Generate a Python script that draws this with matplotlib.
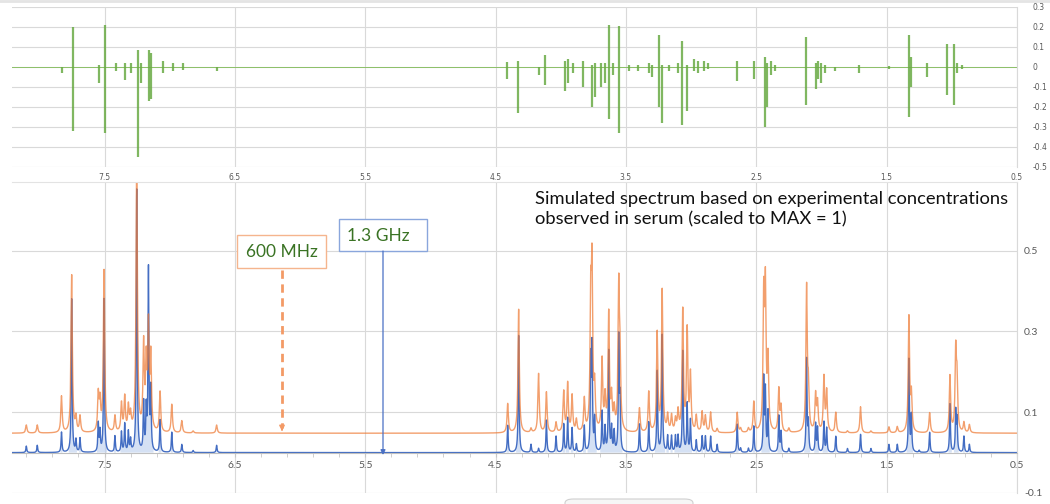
import numpy as np
import matplotlib
matplotlib.use("Agg")
import matplotlib.pyplot as plt
from matplotlib.patches import Rectangle, FancyBboxPatch, FancyArrowPatch
from matplotlib.lines import Line2D

plt.rcParams['axes.unicode_minus'] = False

# ---------------- data ----------------
# bottom panel: peak list (ppm), heights of the 600 MHz (orange) and 1.3 GHz (blue) spectra
peak_ppm = [8.100, 8.016, 7.830, 7.752, 7.719, 7.688, 7.548, 7.535, 7.504, 7.420,
            7.370, 7.345, 7.317, 7.300, 7.253, 7.200, 7.180, 7.163, 7.145, 7.074,
            6.984, 6.907, 6.820, 6.640,
            4.407, 4.323, 4.228, 4.170, 4.110, 4.036, 3.977, 3.947, 3.913, 3.880,
            3.819, 3.770, 3.760, 3.740, 3.683, 3.660, 3.632, 3.610, 3.590, 3.555,
            3.545, 3.396, 3.325, 3.260, 3.222, 3.180, 3.150, 3.120, 3.100, 3.064,
            3.030, 3.005, 2.960, 2.915, 2.890, 2.850, 2.800, 2.646, 2.620, 2.560,
            2.519, 2.443, 2.430, 2.410, 2.327, 2.310, 2.250, 2.114, 2.100, 2.045,
            2.030, 1.981, 1.960, 1.890, 1.800, 1.700, 1.620, 1.482, 1.418, 1.329,
            1.310, 1.250, 1.170, 1.014, 0.970, 0.960, 0.907, 0.865]
h_600 = [0.020, 0.020, 0.090, 0.390, 0.035, 0.040, 0.090, 0.070, 0.400, 0.040,
         0.070, 0.085, 0.060, 0.040, 0.700, 0.210, 0.160, 0.250, 0.180, 0.100,
         0.070, 0.030, 0.005, 0.020,
         0.072, 0.306, 0.010, 0.146, 0.100, 0.025, 0.100, 0.120, 0.090, 0.030,
         0.080, 0.300, 0.376, 0.100, 0.175, 0.080, 0.290, 0.080, 0.050, 0.350,
         0.150, 0.060, 0.100, 0.244, 0.350, 0.040, 0.040, 0.030, 0.050, 0.300,
         0.250, 0.140, 0.040, 0.050, 0.040, 0.050, 0.010, 0.050, 0.010, 0.010,
         0.075, 0.320, 0.340, 0.170, 0.105, 0.060, 0.010, 0.356, 0.100, 0.090,
         0.070, 0.135, 0.100, 0.050, 0.005, 0.065, 0.005, 0.015, 0.015, 0.285,
         0.090, 0.000, 0.050, 0.140, 0.195, 0.120, 0.025, 0.020]
h_1300 = [0.016, 0.018, 0.050, 0.380, 0.030, 0.035, 0.070, 0.050, 0.380, 0.040,
          0.050, 0.070, 0.050, 0.030, 0.650, 0.120, 0.100, 0.450, 0.150, 0.080,
          0.050, 0.020, 0.005, 0.018,
          0.067, 0.290, 0.020, 0.010, 0.080, 0.040, 0.070, 0.085, 0.060, 0.020,
          0.065, 0.220, 0.250, 0.080, 0.100, 0.060, 0.250, 0.060, 0.050, 0.280,
          0.120, 0.070, 0.075, 0.200, 0.290, 0.040, 0.040, 0.040, 0.040, 0.250,
          0.120, 0.080, 0.030, 0.040, 0.040, 0.040, 0.020, 0.070, 0.010, 0.010,
          0.065, 0.180, 0.150, 0.100, 0.090, 0.050, 0.010, 0.230, 0.070, 0.070,
          0.060, 0.075, 0.060, 0.040, 0.010, 0.045, 0.010, 0.020, 0.020, 0.230,
          0.090, 0.005, 0.050, 0.120, 0.100, 0.080, 0.040, 0.020]
orange_offset = 0.048          # vertical offset of the 600 MHz trace
hwhm_600 = 0.006               # line half-width (ppm)
hwhm_1300 = 0.004

# top panel: difference spectrum, per spike (ppm, max, min)
diff_ppm = [7.830, 7.740, 7.540, 7.494, 7.410, 7.340, 7.300, 7.240, 7.220, 7.158,
            7.145, 7.053, 6.976, 6.900, 6.634,
            4.412, 4.328, 4.170, 4.118, 3.964, 3.945, 3.910, 3.829, 3.760, 3.740,
            3.695, 3.660, 3.632, 3.600, 3.555, 3.480, 3.410, 3.320, 3.300, 3.248,
            3.222, 3.170, 3.100, 3.068, 3.030, 2.980, 2.950, 2.900, 2.870, 2.646,
            2.520, 2.437, 2.420, 2.390, 2.360, 2.122, 2.045, 2.030, 2.000, 1.970,
            1.900, 1.712, 1.480, 1.329, 1.310, 1.187, 1.034, 0.983, 0.960, 0.920]
diff_max = [0.000, 0.200, 0.010, 0.210, 0.020, 0.020, 0.020, 0.085, 0.020, 0.085,
            0.070, 0.030, 0.020, 0.020, 0.000,
            0.025, 0.030, 0.000, 0.060, 0.030, 0.040, 0.020, 0.030, 0.010, 0.020,
            0.020, 0.020, 0.210, 0.020, 0.205, 0.010, 0.010, 0.020, 0.010, 0.160,
            0.010, 0.010, 0.020, 0.130, 0.010, 0.040, 0.030, 0.030, 0.020, 0.030,
            0.030, 0.050, 0.020, 0.030, 0.010, 0.150, 0.020, 0.030, 0.020, 0.010,
            0.000, 0.010, 0.005, 0.160, 0.050, 0.020, 0.115, 0.115, 0.020, 0.010]
diff_min = [-0.030, -0.320, -0.080, -0.330, -0.020, -0.065, -0.030, -0.450, -0.080, -0.170,
            -0.160, -0.030, -0.020, -0.015, -0.020,
            -0.060, -0.230, -0.040, -0.090, -0.120, -0.080, -0.030, -0.100, -0.200, -0.150,
            -0.100, -0.080, -0.260, -0.040, -0.330, -0.020, -0.020, -0.030, -0.050, -0.200,
            -0.280, -0.020, -0.030, -0.290, -0.220, -0.020, -0.030, -0.020, -0.010, -0.070,
            -0.060, -0.300, -0.200, -0.040, -0.020, -0.190, -0.110, -0.060, -0.080, -0.030,
            -0.020, -0.030, -0.010, -0.250, -0.100, -0.050, -0.140, -0.190, -0.030, -0.010]

x_ticks = [7.5, 6.5, 5.5, 4.5, 3.5, 2.5, 1.5, 0.5]
top_yticks = [-0.5, -0.4, -0.3, -0.2, -0.1, 0, 0.1, 0.2, 0.3]
bot_yticks = [-0.1, 0.1, 0.3, 0.5]

label_600 = "600 MHz"
label_1300 = "1.3 GHz"
note = "Simulated spectrum based on experimental concentrations\nobserved in serum (scaled to MAX = 1)"

# ---------------- figure ----------------
W, H = 1050, 504
fig = plt.figure(figsize=(W / 100, H / 100), dpi=100)


def fx(x):
    return x / W


def fy(y):
    return 1 - y / H


GRID = '#d9d9d9'
TXT = '#595959'
XLIM = (8.21, 0.5)

ax_top = fig.add_axes([fx(12), fy(167), fx(1017) - fx(12), fy(7) - fy(167)])
ax_bot = fig.add_axes([fx(12), fy(493), fx(1017) - fx(12), fy(182) - fy(493)])

# ----- top panel -----
ax_top.set_xlim(*XLIM)
ax_top.set_ylim(-0.5, 0.3)
ax_top.set_xticks(x_ticks)
ax_top.set_xticklabels([f"{v:g}" for v in x_ticks])
ax_top.set_yticks(top_yticks)
ax_top.set_yticklabels([f"{v:g}" for v in top_yticks])
ax_top.yaxis.tick_right()
ax_top.grid(True, color=GRID, lw=0.8)
ax_top.set_axisbelow(True)
for s in ax_top.spines.values():
    s.set_visible(False)
ax_top.spines['right'].set_visible(True)
ax_top.spines['right'].set_color(GRID)
ax_top.tick_params(axis='both', length=0, labelsize=5.5, labelcolor=TXT)
ax_top.tick_params(axis='x', pad=4)
ax_top.tick_params(axis='y', pad=11)
for lab in ax_top.get_yticklabels():
    lab.set_horizontalalignment('left')

ax_top.axhline(0, color='#8cc068', lw=0.7)
ax_top.vlines(diff_ppm, diff_min, diff_max, color='#6aab45', lw=1.6, alpha=0.85)

# ----- bottom panel -----
xs = np.linspace(XLIM[1], XLIM[0], 40000)
pp = np.asarray(peak_ppm)[:, None]
spec_600 = orange_offset + (np.asarray(h_600)[:, None] /
                            (1 + ((xs[None, :] - pp) / hwhm_600) ** 2)).sum(axis=0)
spec_1300 = (np.asarray(h_1300)[:, None] /
             (1 + ((xs[None, :] - pp) / hwhm_1300) ** 2)).sum(axis=0)

ax_bot.set_xlim(*XLIM)
ax_bot.set_ylim(-0.1, 0.67)
ax_bot.set_xticks(x_ticks)
ax_bot.set_xticklabels([f"{v:g}" for v in x_ticks])
ax_bot.set_xticks(np.arange(0.5, 8.2, 0.2), minor=True)
ax_bot.set_yticks(bot_yticks)
ax_bot.set_yticklabels([f"{v:g}" for v in bot_yticks])
ax_bot.yaxis.tick_right()
ax_bot.grid(True, which='major', color=GRID, lw=0.8)
ax_bot.set_axisbelow(True)
for s in ax_bot.spines.values():
    s.set_visible(False)
ax_bot.spines['right'].set_visible(True)
ax_bot.spines['right'].set_color(GRID)
ax_bot.spines['top'].set_visible(True)
ax_bot.spines['top'].set_color('#e3e3e3')
ax_bot.spines['bottom'].set_visible(True)
ax_bot.spines['bottom'].set_position(('data', 0))
ax_bot.spines['bottom'].set_color('#bfbfbf')
ax_bot.tick_params(axis='x', which='both', length=3, color='#c8c8c8', direction='out',
                   labelsize=7.5, labelcolor=TXT, pad=3)
ax_bot.tick_params(axis='y', length=0, labelsize=7.5, labelcolor=TXT, pad=5)
for lab in ax_bot.get_xticklabels() + ax_bot.get_yticklabels():
    lab.set_fontfamily('Lato')

ax_bot.fill_between(xs, 0, spec_1300, where=spec_1300 > 0.012, color='#b9cdee',
                    alpha=0.6, lw=0)
ax_bot.plot(xs, spec_1300, color='#3a66c0', lw=1.0, alpha=0.95)
ax_bot.plot(xs, spec_600, color='#ee7a35', lw=1.0, alpha=0.72)

# ----- annotations -----
TXT_GREEN = '#3a7324'
fig.patches.append(Rectangle((fx(237), fy(268)), fx(326) - fx(237), fy(235) - fy(268),
                             transform=fig.transFigure, fill=True, facecolor='white',
                             edgecolor='#f5b58e', lw=1.0))
fig.text(fx(281.5), fy(252), label_600, ha='center', va='center', color=TXT_GREEN,
         fontsize=12.5, family='Lato')
fig.patches.append(Rectangle((fx(339), fy(251)), fx(427) - fx(339), fy(219) - fy(251),
                             transform=fig.transFigure, fill=True, facecolor='white',
                             edgecolor='#8aa6dc', lw=1.0))
fig.text(fx(347), fy(236), label_1300, ha='left', va='center', color=TXT_GREEN,
         fontsize=12.5, family='Lato')

# dashed orange arrow (600 MHz)
fig.lines.append(Line2D([fx(282), fx(282)], [fy(270), fy(428)], transform=fig.transFigure,
                        color='#f39a66', lw=2.0, ls=(0, (3, 2))))
fig.patches.append(FancyArrowPatch((fx(282), fy(426)), (fx(282), fy(434)),
                                   transform=fig.transFigure, arrowstyle='-|>',
                                   mutation_scale=8, color='#f39a66', lw=1))
# solid blue arrow (1.3 GHz)
fig.patches.append(FancyArrowPatch((fx(383), fy(251)), (fx(383), fy(455)),
                                   transform=fig.transFigure, arrowstyle='-|>',
                                   mutation_scale=7, color='#4a70c4', lw=0.9,
                                   shrinkA=0, shrinkB=0))

fig.text(fx(535), fy(191), note, ha='left', va='top', color='#111111',
         fontsize=13.2, family='Lato', linespacing=1.3)

# frame details (top border line and partial scroll widget)
fig.lines.append(Line2D([0, 1], [fy(1.2), fy(1.2)], transform=fig.transFigure,
                        color='#e4e4e4', lw=2))
fig.patches.append(FancyBboxPatch((fx(565), fy(512)), fx(693) - fx(565), fy(499) - fy(512),
                                  boxstyle='round,pad=0,rounding_size=0.008',
                                  transform=fig.transFigure, facecolor='#f6f6f6',
                                  edgecolor='#d0d0d0', lw=0.8))

fig.savefig('out.png', dpi=100)
